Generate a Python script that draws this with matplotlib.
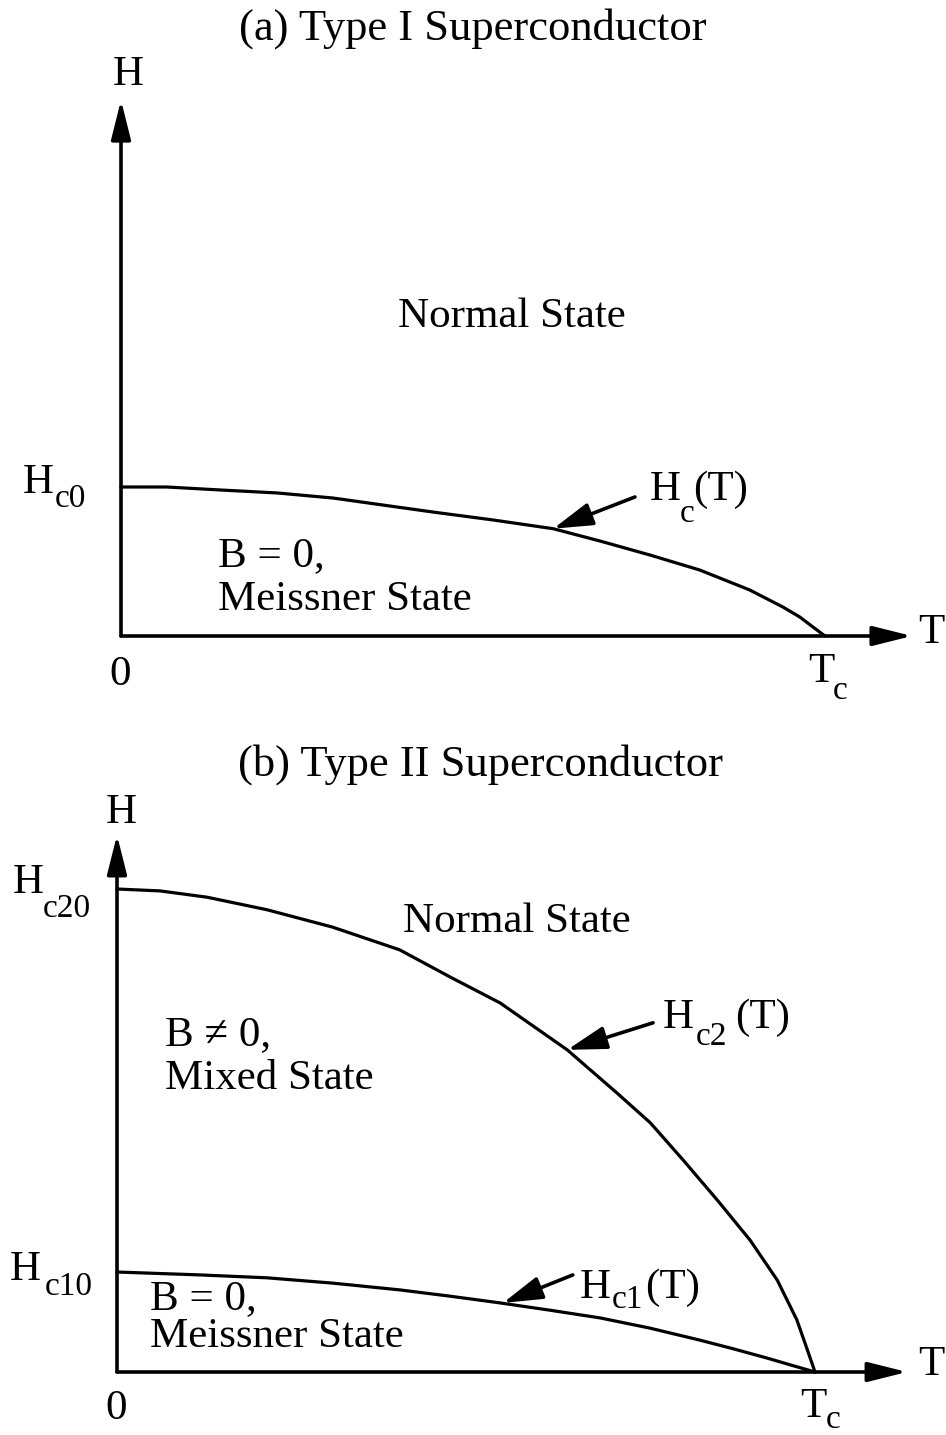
import matplotlib
matplotlib.use("Agg")
import matplotlib.pyplot as plt
from matplotlib.patches import ArrowStyle

# ---- data: critical field curves (T in units of Tc) ----
# (a) Type I: Hc(T) in units of Hc0
type1_T = [0.0, 0.065, 0.141, 0.222, 0.301, 0.372, 0.443, 0.528, 0.614, 0.680,
           0.751, 0.822, 0.893, 0.940, 0.964, 0.983, 1.0]
type1_Hc = [1.0, 1.0, 0.980, 0.960, 0.926, 0.879, 0.832, 0.779, 0.720, 0.638,
            0.544, 0.443, 0.309, 0.195, 0.128, 0.060, 0.0]

# (b) Type II: Hc2(T) and Hc1(T) in units of Hc20
type2_T_hc2 = [0.0, 0.062, 0.129, 0.215, 0.309, 0.405, 0.477, 0.549, 0.645, 0.716,
               0.764, 0.811, 0.860, 0.907, 0.946, 0.974, 0.989, 1.0]
type2_Hc2 = [1.0, 0.996, 0.983, 0.957, 0.921, 0.874, 0.818, 0.764, 0.667, 0.578,
             0.516, 0.439, 0.356, 0.273, 0.190, 0.108, 0.046, 0.0]
type2_T_hc1 = [0.0, 0.119, 0.215, 0.309, 0.405, 0.477, 0.549, 0.620, 0.692, 0.763,
               0.835, 0.883, 0.931, 0.964, 1.0]
type2_Hc1 = [0.207, 0.201, 0.195, 0.184, 0.170, 0.157, 0.143, 0.128, 0.112, 0.091,
             0.066, 0.048, 0.029, 0.015, 0.0]

titles = ["(a) Type I Superconductor", "(b) Type II Superconductor"]

W, H = 946, 1435
FONT = "Liberation Serif"
TITLE = 32
BIG = 31
SUB = 24

fig = plt.figure(figsize=(W / 100, H / 100), dpi=100)
fig.patch.set_facecolor("white")


def put(x, y, s, size=BIG, ha="left"):
    fig.text(x / W, 1 - y / H, s, fontsize=size, ha=ha, va="baseline",
             family=FONT, color="black")


def make_axes(x0, y0, x1, y1):
    # x0,y0: origin pixel; x1: pixel of T=Tc; y1: pixel of H=1
    ax = fig.add_axes([x0 / W, 1 - y0 / H, (x1 - x0) / W, (y0 - y1) / H])
    ax.set_xlim(0, 1)
    ax.set_ylim(0, 1)
    ax.axis("off")
    return ax


axis_head = ArrowStyle("-|>", head_length=2.4, head_width=0.6)
note_head = ArrowStyle("-|>", head_length=2.4, head_width=0.7)


def axis_arrow(ax, end):
    ax.annotate("", xy=end, xytext=(0, 0), annotation_clip=False,
                arrowprops=dict(arrowstyle=axis_head, mutation_scale=10, lw=2.6,
                                color="black", shrinkA=0, shrinkB=0))


def note_arrow(ax, tip, tail):
    ax.annotate("", xy=tip, xytext=tail, annotation_clip=False,
                arrowprops=dict(arrowstyle=note_head, mutation_scale=10, lw=2.6,
                                color="black", shrinkA=0, shrinkB=0))


def curve(ax, t, h):
    ax.plot(t, h, color="black", lw=2.3, clip_on=False,
            solid_joinstyle="round", solid_capstyle="round")


# ---------------- (a) Type I ----------------
ax_a = make_axes(121, 636, 825, 487)
axis_arrow(ax_a, (1.1236, 0))
axis_arrow(ax_a, (0, 3.597))
curve(ax_a, type1_T, type1_Hc)
note_arrow(ax_a, (0.614, 0.720), (0.730, 0.933))

put(473, 40, titles[0], size=TITLE, ha="center")
put(128, 85, "H", ha="center")
put(120, 685, "0", ha="center")
put(918, 643, "T")
put(808, 682, "T")
put(833, 699, "c", size=SUB)
put(23, 493, "H")
put(55, 507, "c0", size=SUB)
put(650, 500, "H")
put(680, 522, "c", size=SUB)
put(693, 500, "(T)")
put(398, 327, "Normal State")
put(218, 566, "B = 0,")
put(218, 610, "Meissner State")

# ---------------- (b) Type II ----------------
ax_b = make_axes(117, 1372, 815, 889)
axis_arrow(ax_b, (1.132, 0))
axis_arrow(ax_b, (0, 1.112))
curve(ax_b, type2_T_hc2, type2_Hc2)
curve(ax_b, type2_T_hc1, type2_Hc1)
note_arrow(ax_b, (0.645, 0.667), (0.768, 0.723))
note_arrow(ax_b, (0.553, 0.143), (0.653, 0.201))

put(480, 776, titles[1], size=TITLE, ha="center")
put(121, 823, "H", ha="center")
put(116, 1419, "0", ha="center")
put(918, 1375, "T")
put(800, 1417, "T")
put(826, 1428, "c", size=SUB)
put(13, 893, "H")
put(43, 917, "c20", size=SUB)
put(10, 1280, "H")
put(45, 1295, "c10", size=SUB)
put(403, 932, "Normal State")
put(663, 1028, "H")
put(696, 1045, "c2", size=SUB)
put(735, 1028, "(T)")
put(580, 1298, "H")
put(612, 1308, "c1", size=SUB)
put(645, 1298, "(T)")
put(165, 1045, "B \u2260 0,")
put(165, 1089, "Mixed State")
put(150, 1309, "B = 0,")
put(150, 1347, "Meissner State")

fig.savefig("out.png", dpi=100, facecolor="white")
